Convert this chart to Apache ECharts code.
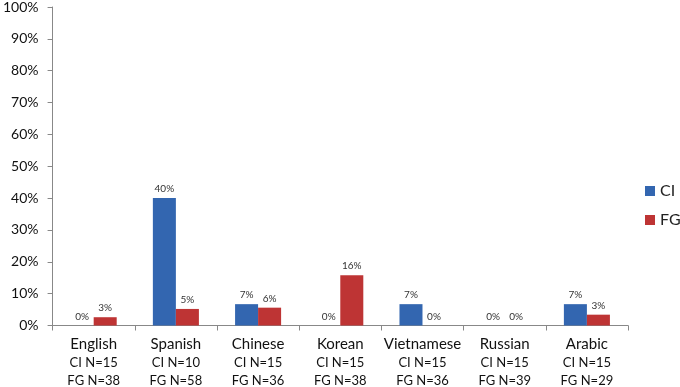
<!DOCTYPE html>
<html><head><meta charset="utf-8">
<script src="https://cdn.jsdelivr.net/npm/echarts@6/dist/echarts.min.js"></script>
<style>html,body{margin:0;padding:0;background:#fff}#c{width:680px;height:387px}</style>
</head><body><div id="c"></div>
<script>
const categories = ['English','Spanish','Chinese','Korean','Vietnamese','Russian','Arabic'];
const ciN = [15,10,15,15,15,15,15];
const fgN = [38,58,36,38,36,39,29];
const ciValues = [0,40,6.7,0,6.7,0,6.7];
const fgValues = [2.6,5.2,5.6,15.8,0,0,3.4];
const yTicks = [0,10,20,30,40,50,60,70,80,90,100];

const FONT = 'Lato, "Open Sans", sans-serif';
const chart = echarts.init(document.getElementById('c'));
const labelCfg = {
  show: true, position: 'top', distance: 4, color: '#333', fontSize: 10, fontFamily: FONT,
  formatter: p => Math.round(p.value) + '%'
};
chart.setOption({
  animation: false,
  grid: {left: 50, right: 52, top: 6, bottom: 60, containLabel: false},
  legend: {
    orient: 'vertical', left: 640, top: 178, itemWidth: 10, itemHeight: 10, itemGap: 13,
    icon: 'rect', textStyle: {fontSize: 16, color: '#222', fontFamily: FONT},
    data: ['CI','FG']
  },
  xAxis: {
    type: 'category', data: categories,
    axisLine: {lineStyle: {color: '#888'}},
    axisTick: {show: true, length: 5, lineStyle: {color: '#888'}},
    axisLabel: {
      interval: 0, margin: 10, color: '#111', fontFamily: FONT,
      formatter: (v, i) => '{n|' + v + '}\n{s|CI N=' + ciN[i] + '}\n{s|FG N=' + fgN[i] + '}',
      rich: {
        n: {fontSize: 15, lineHeight: 18, fontFamily: FONT, color: '#111'},
        s: {fontSize: 13, lineHeight: 18, fontFamily: FONT, color: '#111'}
      }
    }
  },
  yAxis: {
    type: 'value', min: 0, max: 100, interval: 10,
    axisLine: {show: true, lineStyle: {color: '#888'}},
    axisTick: {show: true, length: 5, lineStyle: {color: '#888'}},
    splitLine: {show: false},
    axisLabel: {
      margin: 14, fontSize: 14, color: '#111', fontFamily: FONT,
      formatter: v => yTicks.includes(v) ? v + '%' : ''
    }
  },
  series: [
    {name: 'CI', type: 'bar', data: ciValues, barGap: '0%', barCategoryGap: '44%',
     itemStyle: {color: '#3366b0'}, label: labelCfg},
    {name: 'FG', type: 'bar', data: fgValues, barGap: '0%', barCategoryGap: '44%',
     itemStyle: {color: '#be3434'}, label: labelCfg}
  ]
});
</script></body></html>
